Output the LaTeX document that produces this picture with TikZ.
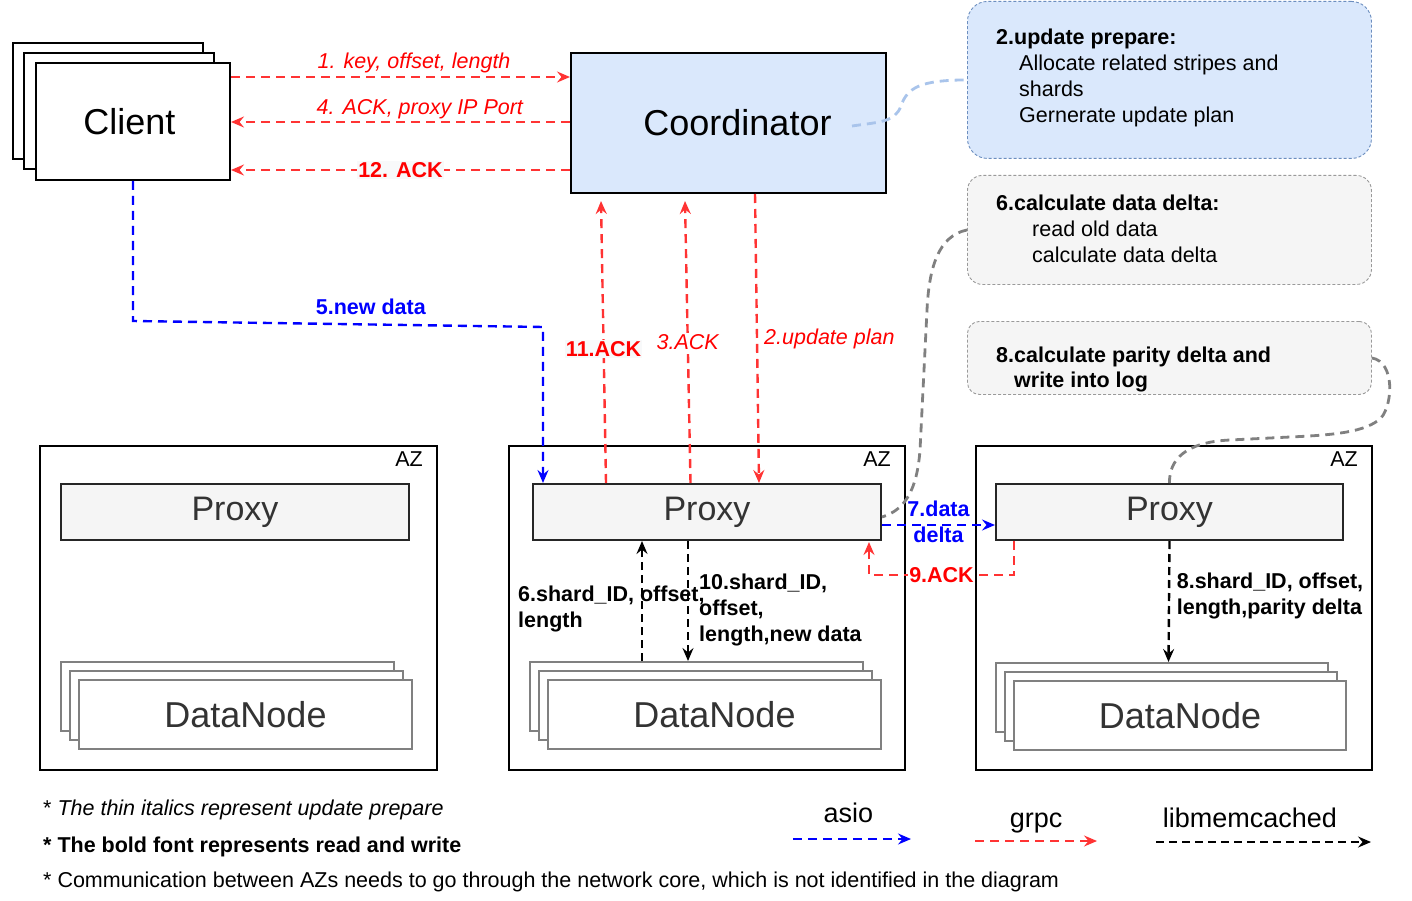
\documentclass[tikz,border=0pt]{standalone}
\usepackage{fontspec}
\setmainfont{Liberation Sans}
\usetikzlibrary{arrows.meta,calc}
\definecolor{lnred}{HTML}{FF3333}
\definecolor{txred}{HTML}{FF0000}
\definecolor{lnblue}{HTML}{0000FF}
\definecolor{cofill}{HTML}{DAE8FC}
\definecolor{noteblue}{HTML}{6C8EBF}
\definecolor{grayfill}{HTML}{F5F5F5}
\definecolor{darktext}{HTML}{333333}
\definecolor{linkblue}{HTML}{A9C4EB}
\definecolor{linkgray}{HTML}{808080}
\definecolor{notegray}{HTML}{9A9A9A}
\definecolor{labelbg}{HTML}{F8F9FA}
\newcommand\myfs{\fontsize{21.5}{26}\selectfont}
\newcommand\mybig{\fontsize{36}{43}\selectfont}
\newcommand\myprx{\fontsize{34}{41}\selectfont}
\newcommand\mylg{\fontsize{27}{32}\selectfont}
\begin{document}
\begin{tikzpicture}[x=1pt,y=-1pt,
  tipstyle/.style={-{Stealth[length=13pt,width=11pt,inset=4.5pt]}},
  rline/.style={draw=lnred, line width=2.4pt, dash pattern=on 9pt off 6pt, tipstyle},
  bline/.style={draw=lnblue, line width=2.4pt, dash pattern=on 9pt off 6pt, tipstyle},
  kline/.style={draw=black, line width=2.4pt, dash pattern=on 8pt off 5pt, tipstyle},
  glink/.style={draw=linkgray, line width=2.8pt, dash pattern=on 9pt off 6pt},
  blink/.style={draw=linkblue, line width=2.8pt, dash pattern=on 9pt off 6pt},
  box/.style={anchor=north west, inner sep=0pt, line width=2pt},
  clientbox/.style={box, draw=black, fill=white},
  azbox/.style={box, draw=black},
  proxybox/.style={box, draw=black!85, fill=grayfill, text=darktext, font=\myprx, minimum width=348pt, minimum height=56pt},
  dnbox/.style={box, draw=linkgray, fill=white, text=darktext, font=\mybig, minimum width=333pt, minimum height=69pt},
  notebox/.style={box, line width=0.9pt, dash pattern=on 3pt off 2pt, minimum width=404pt},
  notetext/.style={anchor=base west, inner sep=0pt, font=\myfs},
  itlabel/.style={font=\myfs\itshape, text=txred, inner sep=1pt},
  bdlabel/.style={font=\myfs\bfseries, inner sep=1pt},
  aztext/.style={anchor=base east, inner sep=0pt, font=\myfs}
]
\useasboundingbox (0,0) rectangle (1412,901);

% Client stack
\node[clientbox, minimum width=190pt, minimum height=116pt] (clb) at (12,42) {};
\node[clientbox, minimum width=190pt, minimum height=116pt] (clm) at (23,52) {};
\node[clientbox, minimum width=194pt, minimum height=117pt, font=\mybig] (cl) at (35,62) {Client\hspace*{7pt}};

% Coordinator
\node[box, draw=black, fill=cofill, minimum width=315pt, minimum height=140pt, font=\mybig] (co) at (570,52) {\hspace*{18pt}Coordinator};

% Notes
\node[notebox, draw=noteblue, fill=cofill, rounded corners=20pt, minimum height=157pt] (n1) at (967,1) {};
\node[notetext] at (996,45) {\begin{tabular}[t]{@{}l@{}}\textbf{2.update prepare:}\\\hspace*{23pt}Allocate related stripes and\\\hspace*{23pt}shards\\\hspace*{23pt}Gernerate update plan\end{tabular}};
\node[notebox, draw=notegray, fill=grayfill, rounded corners=15pt, minimum height=109pt] (n2) at (967,175) {};
\node[notetext] at (996,211) {\begin{tabular}[t]{@{}l@{}}\textbf{6.calculate data delta:}\\\hspace*{36pt}read old data\\\hspace*{36pt}calculate data delta\end{tabular}};
\node[notebox, draw=notegray, fill=grayfill, rounded corners=12pt, minimum height=73pt] (n3) at (967,321) {};
\node[notetext] at (996,362) {\begin{tabular}[t]{@{}l@{}}\textbf{8.calculate parity delta and}\\[-1pt]\hspace*{18pt}\textbf{write into log}\end{tabular}};

% AZ boxes
\node[azbox, minimum width=397pt, minimum height=324pt] (az1) at (39,445) {};
\node[azbox, minimum width=396pt, minimum height=324pt] (az2) at (508,445) {};
\node[azbox, minimum width=396pt, minimum height=324pt] (az3) at (975,445) {};
\node[aztext] at ($(az1.north east)+(-15,21)$) {AZ};
\node[aztext] at ($(az2.north east)+(-15,21)$) {AZ};
\node[aztext] at ($(az3.north east)+(-15,21)$) {AZ};

% Proxies
\node[proxybox] (p1) at (60,483) {Proxy};
\node[proxybox] (p2) at (532,483) {Proxy};
\node[proxybox, minimum width=347pt] (p3) at (995,483) {Proxy};

% DataNodes
\node[dnbox] (d1a) at (60,661) {};
\node[dnbox] (d1b) at (69,670) {};
\node[dnbox] (d1) at (78,679) {DataNode};
\node[dnbox] (d2a) at (529,661) {};
\node[dnbox] (d2b) at (538,670) {};
\node[dnbox] (d2) at (547,679) {DataNode};
\node[dnbox, minimum width=332pt] (d3a) at (995,662) {};
\node[dnbox, minimum width=332pt] (d3b) at (1004,671) {};
\node[dnbox, minimum width=332pt] (d3) at (1013,680) {DataNode};

% Client <-> Coordinator
\draw[rline] ($(cl.east)+(0,-44.5)$) -- ($(co.west)+(0,-46)$)
  node[itlabel, pos=0.54, anchor=base, yshift=8.5pt] {1. key, offset, length};
\draw[rline] ($(co.west)+(0,-1)$) -- ($(cl.east)+(0,0.5)$)
  node[itlabel, pos=0.443, anchor=base, yshift=7.5pt] {4. ACK, proxy IP Port};
\draw[rline] ($(co.west)+(0,47)$) -- ($(cl.east)+(0,48.5)$)
  node[bdlabel, text=txred, fill=labelbg, pos=0.5] {12. ACK};

% Client -> Proxy (new data)
\draw[bline] (cl.south) -- ($(cl.south)+(0,140)$) -- ($(p2.north west)+(11,-156)$)
  node[bdlabel, text=lnblue, pos=0.58, anchor=base, yshift=10pt] {5.new data}
  -- ($(p2.north west)+(11,0)$);

% Coordinator <-> Proxy
\draw[rline] ($(p2.north west)+(74,0)$) -- ($(co.south west)+(31,7)$)
  node[bdlabel, text=txred, fill=labelbg, pos=0.475] {11.ACK};
\draw[rline] ($(p2.north west)+(158.5,0)$) -- ($(co.south west)+(115,7)$)
  node[itlabel, fill=white, pos=0.5] {3.ACK};
\draw[rline] ($(co.south west)+(185,0)$) -- ($(p2.north west)+(227,0)$)
  node[itlabel, pos=0.5, anchor=west, xshift=5pt] {2.update plan};

% Note links
\draw[blink] ($(co.east)+(-35,3)$) .. controls (880,122) and (895,122) .. (901,106)
  .. controls (907,88) and (920,80) .. (n1.west);
\draw[glink] (n2.west) .. controls (938,236) and (929,268) .. (927,310)
  -- (920,450) .. controls (917,490) and (905,510) .. ($(p2.east)+(0,5)$);
\draw[glink] (n3.east) .. controls (1395,362) and (1393,404) .. (1381,418)
  .. controls (1366,432) and (1335,435) .. (1290,437) -- (1230,440)
  .. controls (1185,442) and (1169,460) .. (p3.north);

% Proxy <-> Proxy
\draw[bline] ($(p2.east)+(0,13)$) -- ($(p3.west)+(0,13)$)
  node[bdlabel, text=lnblue, midway, align=center, yshift=3pt] {7.data\\delta};
\draw[rline] ($(p3.south west)+(19,0)$) -- ($(p3.south west)+(19,34)$)
  -- ($(p2.south east)+(-13,34)$) node[bdlabel, text=txred, fill=white, midway] {9.ACK}
  -- ($(p2.south east)+(-13,1)$);

% Proxy <-> DataNode
\draw[kline] ($(d2a.north west)+(113,0)$) -- ($(p2.south west)+(110,0)$)
  node[pos=0.5, anchor=base west, xshift=-125pt, inner sep=0pt, font=\myfs\bfseries]
  {\begin{tabular}[t]{@{}l@{}}6.shard\_ID, offset,\\length\end{tabular}};
\draw[kline] ($(p2.south west)+(156,0)$) -- ($(d2a.north west)+(159,0)$)
  node[pos=0.40, anchor=base west, xshift=10pt, inner sep=0pt, font=\myfs\bfseries]
  {\begin{tabular}[t]{@{}l@{}}10.shard\_ID,\\offset,\\length,new data\end{tabular}};
\draw[kline] (p3.south) -- ($(d3a.north west)+(173.5,0)$)
  node[pos=0.39, anchor=base west, xshift=6.5pt, inner sep=0pt, font=\myfs\bfseries]
  {\begin{tabular}[t]{@{}l@{}}8.shard\_ID, offset,\\length,parity delta\end{tabular}};

% Legend
\node[anchor=base west, inner sep=0pt, font=\myfs] (lg1) at (43,815) {* \textit{The thin italics represent update prepare}};
\node[anchor=base west, inner sep=0pt, font=\myfs\bfseries] (lg2) at (43,852) {* The bold font represents read and write};
\node[anchor=base west, inner sep=0pt, font=\myfs] (lg3) at (43,887) {* Communication between AZs needs to go through the network core, which is not identified in the diagram};
\coordinate (la1) at (793,839);
\coordinate (la2) at (911,839);
\coordinate (lb1) at (975,841);
\coordinate (lb2) at (1097,841);
\coordinate (lc1) at (1156,842);
\coordinate (lc2) at (1371,842);
\draw[bline] (la1) -- (la2) node[pos=0.47, anchor=base, yshift=17pt, font=\mylg, inner sep=0pt] {asio};
\draw[rline] (lb1) -- (lb2) node[pos=0.5, anchor=base, yshift=14pt, font=\mylg, inner sep=0pt, text=black] {grpc};
\draw[kline] (lc1) -- (lc2) node[pos=0.437, anchor=base, yshift=15pt, font=\mylg, inner sep=0pt] {libmemcached};
\end{tikzpicture}
\end{document}
